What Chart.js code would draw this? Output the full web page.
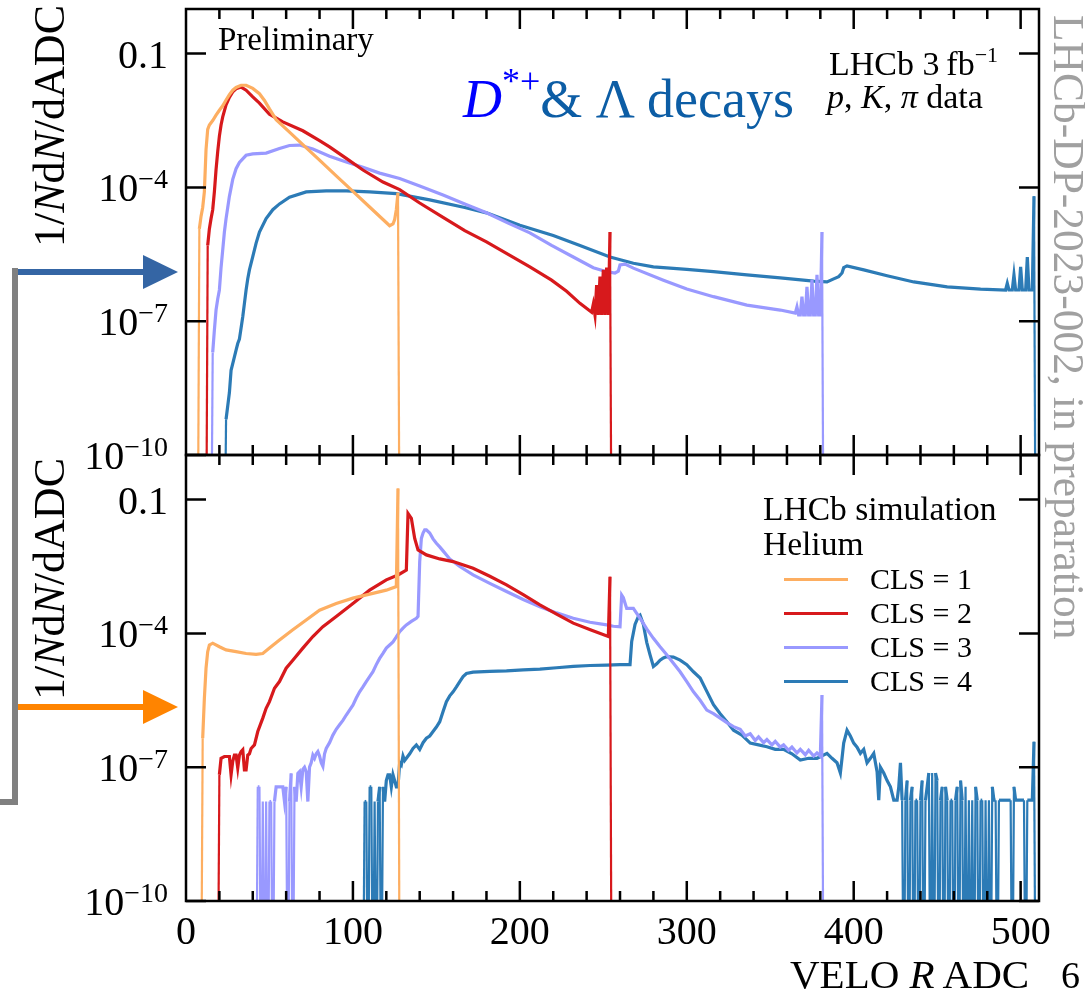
<!DOCTYPE html>
<html>
<head>
<meta charset="utf-8">
<script src="https://cdn.jsdelivr.net/npm/chart.js@4.4.1/dist/chart.umd.min.js"></script>
<style>
  body { margin: 0; background: #fff; }
  #fig { position: relative; width: 1085px; height: 996px; overflow: hidden;
         font-family: 'Liberation Serif', 'Times New Roman', serif; color: #000; }
  #fig canvas { position: absolute; left: 0; }
  .t { position: absolute; white-space: nowrap; line-height: 1; text-align: left; }
</style>
</head>
<body>
<div id="fig">
  <canvas id="top-chart" width="1085" height="480" style="top:0"></canvas>
  <canvas id="bottom-chart" width="1085" height="556" style="top:440px"></canvas>
  <svg width="190" height="820" style="position:absolute;left:0;top:0">
    <polyline points="15,268 15,802 0,802" fill="none" stroke="#808080" stroke-width="6"/>
    <line x1="18" y1="272" x2="146" y2="272" stroke="#3465a4" stroke-width="6"/>
    <polygon points="143,255 178,272 143,289" fill="#3465a4"/>
    <line x1="18" y1="707" x2="146" y2="707" stroke="#ff8400" stroke-width="6"/>
    <polygon points="143,690 178,707 143,724" fill="#ff8400"/>
  </svg>
</div>
<script>
// ---- data: [ADC, log10(1/N dN/dADC)], null = empty bin ----
const clsLabels = ['CLS = 1', 'CLS = 2', 'CLS = 3', 'CLS = 4'];
const clsColors = ['#fdae61', '#d7191c', '#9999ff', '#2c7bb6'];
const yTickValues = [1e-10, 1e-7, 1e-4, 0.1];

// top panel: D*+ & Lambda data
const dataCls1 = [[7,null],[8,-4.93],[9,-4.65],[10,-4.45],[11,-4.1],[12,-3.15],[13,-2.7],[14,-2.6],[16,-2.5],[18,-2.38],
  [20,-2.27],[22,-2.17],[24,-2.04],[26,-1.92],[28,-1.82],[30,-1.76],[33,-1.71],[36,-1.71],[40,-1.78],[44,-1.9],[47,-2.05],
  [50,-2.24],[54,-2.48],[62,-2.76],[70,-3.04],[80,-3.39],[90,-3.74],[100,-4.09],[110,-4.44],[118,-4.72],[122,-4.86],
  [124,-4.82],[125,-4.72],[126,-4.5],[127,-4.12],[128,null]];
const dataCls2 = [[12,null],[13,-5.3],[14,-4.93],[15,-4.7],[16,-4.5],[17,-4.1],[18,-3.6],[19,-3.2],[20,-2.85],[21,-2.6],
  [22,-2.42],[24,-2.15],[26,-1.98],[28,-1.86],[30,-1.79],[33,-1.75],[36,-1.82],[40,-1.97],[44,-2.11],[50,-2.36],[58,-2.53],
  [70,-2.73],[80,-2.95],[86,-3.09],[96,-3.35],[106,-3.61],[118,-3.88],[128,-4.05],[140,-4.35],[154,-4.67],[167,-4.97],
  [180,-5.22],[193,-5.5],[206,-5.78],[219,-6.08],[228,-6.33],[236,-6.6],[243,-6.8],[244,-6.62],[245,-6.86],[246,-6.19],
  [247,-6.86],[248,-6.0],[249,-6.86],[250,-5.85],[251,-6.86],[252,-5.8],[253,-6.86],[254,-5.0],[255,null]];
const dataCls3 = [[15,null],[16,-7.7],[17,-7.2],[18,-6.75],[19,-6.5],[20,-6.3],[21,-5.8],[22,-5.4],[23,-5.0],[24,-4.7],
  [25,-4.45],[26,-4.2],[28,-3.82],[30,-3.58],[32,-3.44],[36,-3.28],[40,-3.25],[48,-3.23],[56,-3.13],[62,-3.06],[68,-3.05],
  [76,-3.14],[86,-3.3],[96,-3.43],[106,-3.55],[116,-3.68],[128,-3.8],[140,-3.97],[154,-4.17],[167,-4.37],[180,-4.57],
  [193,-4.8],[206,-5.02],[219,-5.3],[232,-5.56],[244,-5.8],[252,-5.89],[257,-5.92],[259,-5.88],[260,-5.74],[263,-5.72],
  [268,-5.81],[286,-6.08],[300,-6.28],[316,-6.45],[336,-6.64],[356,-6.75],[365,-6.82],[366,-6.68],[367,-6.86],[368,-6.86],
  [369,-6.45],[370,-6.86],[371,-6.86],[372,-6.23],[373,-6.86],[374,-6.86],[375,-6.07],[376,-6.86],[377,-6.86],[378,-5.96],
  [379,-6.86],[380,-6.86],[381,-5.0],[382,null]];
const dataCls4 = [[23,null],[24,-9.2],[25,-8.9],[26,-8.6],[27,-8.1],[28,-7.95],[29,-7.8],[30,-7.65],[31,-7.5],[32,-7.4],
  [33,-7.15],[34,-6.9],[35,-6.6],[36,-6.3],[37,-6.05],[38,-5.85],[40,-5.55],[42,-5.25],[44,-5.0],[48,-4.7],[52,-4.5],
  [56,-4.37],[62,-4.22],[72,-4.1],[84,-4.08],[96,-4.08],[110,-4.1],[126,-4.14],[146,-4.28],[167,-4.45],[180,-4.57],
  [200,-4.85],[220,-5.08],[236,-5.3],[254,-5.56],[268,-5.7],[280,-5.78],[300,-5.84],[316,-5.89],[336,-5.96],[356,-6.03],
  [376,-6.1],[384,-6.12],[388,-6.05],[391,-6.0],[393,-5.92],[394,-5.8],[396,-5.76],[406,-5.85],[420,-5.98],[436,-6.12],
  [456,-6.23],[476,-6.28],[491,-6.3],[492,-6.15],[493,-6.3],[495,-6.3],[496,-5.96],[497,-6.3],[499,-6.3],[500,-5.78],
  [501,-6.3],[503,-6.3],[504,-5.56],[505,-6.3],[507,-6.3],[508,-4.2],[509,null]];

// bottom panel: helium simulation
const simCls1 = [[9,null],[10,-6.35],[11,-5.46],[12,-4.78],[13,-4.41],[14,-4.26],[16,-4.22],[20,-4.3],[24,-4.37],
  [30,-4.41],[36,-4.45],[42,-4.47],[46,-4.45],[50,-4.33],[56,-4.15],[64,-3.92],[72,-3.7],[80,-3.48],[90,-3.33],
  [100,-3.21],[110,-3.12],[120,-3.03],[126,-2.95],[127,-0.75],[128,null]];
const simCls2 = [[19,null],[20,-7.17],[21,-6.8],[23,-6.76],[25,-6.76],[26,-6.76],[27,-7.17],[28,-6.87],[29,-6.73],
  [30,-6.73],[31,-7.02],[32,-6.73],[33,-6.65],[34,-6.61],[35,-7.06],[36,-7.06],[37,-6.73],[38,-6.7],[39,-6.58],[41,-6.5],
  [43,-6.2],[46,-5.9],[48,-5.68],[50,-5.53],[53,-5.23],[56,-5.08],[60,-4.78],[64,-4.6],[70,-4.33],[76,-4.07],[82,-3.85],
  [90,-3.62],[100,-3.33],[110,-3.03],[120,-2.8],[127,-2.69],[132,-2.58],[133,-1.31],[135,-1.42],[137,-1.87],[139,-2.13],
  [144,-2.24],[152,-2.33],[160,-2.39],[172,-2.54],[182,-2.72],[192,-2.91],[202,-3.13],[212,-3.36],[222,-3.57],
  [232,-3.77],[243,-3.93],[253,-4.07],[254,-2.73],[255,null]];
const simCls3 = [[42,null],[43,-7.44],[44,-7.44],[45,null],[46,-7.77],[47,null],[48,-7.77],[49,null],[50,-7.77],[51,-7.77],
  [52,null],[53,-7.77],[54,-7.44],[55,-7.44],[56,-7.44],[57,-7.44],[58,-7.44],[59,-7.77],[60,-7.44],[61,null],[62,-7.77],
  [63,-7.14],[64,null],[65,-7.44],[66,-7.77],[67,-7.14],[68,-7.1],[69,-7.44],[70,-7.05],[71,-7.0],[72,-7.1],[73,-7.77],
  [74,-7.0],[75,-6.9],[76,-6.73],[77,-6.8],[78,-6.7],[79,-6.65],[80,-6.75],[81,-6.9],[82,-6.98],[83,-6.7],[84,-6.58],
  [86,-6.45],[88,-6.28],[90,-6.15],[92,-6.05],[94,-5.95],[96,-5.83],[98,-5.72],[100,-5.61],[102,-5.45],[104,-5.31],
  [106,-5.2],[108,-5.08],[110,-4.97],[112,-4.86],[114,-4.7],[116,-4.56],[118,-4.45],[120,-4.33],[122,-4.26],[124,-4.19],
  [126,-4.08],[128,-3.96],[130,-3.88],[132,-3.81],[135,-3.73],[138,-3.66],[139,-3.62],[140,-2.39],[141,-1.87],[142,-1.75],
  [143,-1.68],[144,-1.68],[146,-1.75],[148,-1.88],[150,-1.98],[152,-2.06],[154,-2.15],[158,-2.33],[164,-2.5],[172,-2.69],
  [182,-2.88],[192,-3.06],[202,-3.24],[212,-3.4],[222,-3.54],[232,-3.66],[242,-3.75],[252,-3.81],[256,-3.84],[260,-3.85],
  [261,-3.14],[262,-3.2],[264,-3.44],[268,-3.44],[270,-3.55],[272,-3.66],[276,-3.9],[280,-4.11],[284,-4.3],[288,-4.48],
  [292,-4.67],[296,-4.86],[300,-5.08],[304,-5.31],[308,-5.5],[312,-5.72],[316,-5.8],[320,-5.9],[324,-6.0],[328,-6.09],
  [332,-6.15],[335,-6.3],[338,-6.25],[341,-6.4],[343,-6.32],[346,-6.45],[348,-6.38],[351,-6.5],[353,-6.42],[356,-6.55],
  [358,-6.5],[361,-6.62],[363,-6.55],[366,-6.68],[368,-6.6],[371,-6.72],[373,-6.62],[376,-6.75],[378,-6.68],[380,-6.75],
  [381,-5.38],[382,null]];
const simCls4 = [[106,null],[107,-7.77],[108,-7.77],[109,null],[110,-7.44],[111,-7.44],[112,null],[113,-7.77],[114,null],
  [115,-7.77],[116,-7.44],[117,null],[118,-7.44],[119,-7.77],[120,-7.3],[121,-7.17],[122,-7.17],[123,-7.44],[124,-7.17],
  [125,-7.3],[126,-7.44],[127,-7.44],[128,-6.9],[129,-6.95],[130,-6.75],[131,-6.85],[132,-6.8],[134,-6.7],[136,-6.58],
  [138,-6.5],[140,-6.6],[142,-6.45],[144,-6.35],[146,-6.3],[148,-6.2],[150,-6.1],[152,-5.98],[154,-5.75],[156,-5.53],
  [158,-5.4],[160,-5.31],[162,-5.2],[164,-5.08],[166,-4.97],[168,-4.9],[172,-4.87],[182,-4.85],[192,-4.84],[202,-4.82],
  [212,-4.8],[222,-4.77],[232,-4.74],[242,-4.72],[252,-4.71],[260,-4.7],[266,-4.7],[267,-4.18],[269,-3.8],[271,-3.62],
  [272,-3.59],[274,-3.8],[276,-4.2],[278,-4.48],[280,-4.74],[282,-4.68],[284,-4.6],[286,-4.55],[288,-4.52],[292,-4.53],
  [296,-4.6],[300,-4.7],[304,-4.86],[308,-5.0],[312,-5.3],[316,-5.6],[320,-5.8],[324,-5.98],[328,-6.17],[333,-6.28],
  [338,-6.46],[343,-6.5],[348,-6.54],[353,-6.6],[358,-6.6],[363,-6.7],[368,-6.84],[373,-6.8],[378,-6.8],[384,-6.69],
  [387,-6.8],[390,-6.9],[392,-7.13],[393,-6.8],[394,-6.46],[396,-6.17],[398,-6.3],[400,-6.46],[402,-6.55],[404,-6.69],
  [406,-6.6],[408,-6.9],[410,-6.8],[412,-6.69],[414,-7.1],[415,-7.74],[416,-7.0],[418,-7.13],[420,-7.3],[422,-7.44],
  [424,-7.74],[425,-7.74],[426,-7.74],[427,-7.44],[428,-6.9],[429,-7.74],[430,null],[431,-7.74],[432,-7.3],[433,null],
  [434,-7.74],[435,-7.44],[436,null],[437,-7.74],[438,-7.74],[439,null],[440,-7.74],[441,-7.3],[442,null],[443,-7.74],
  [444,-7.44],[445,-7.13],[446,null],[447,-7.13],[448,null],[449,-7.13],[450,-7.3],[451,null],[452,-7.74],[453,-7.44],
  [454,null],[455,-7.44],[456,-7.74],[457,null],[458,-7.74],[459,-7.74],[460,null],[461,-7.74],[462,-7.44],[463,null],
  [464,-7.3],[465,-7.74],[466,null],[467,-7.44],[468,null],[469,-7.74],[470,null],[471,-7.74],[472,null],[473,-7.44],
  [474,-7.74],[475,null],[476,-7.74],[477,-7.74],[478,null],[479,-7.74],[480,null],[481,-7.74],[482,null],[483,-7.44],
  [484,-7.74],[485,-7.74],[486,null],[487,-7.74],[488,-7.74],[489,-7.74],[490,-7.74],[491,-7.74],[492,-7.74],[493,-7.74],
  [494,-7.74],[495,null],[496,-7.44],[497,-7.74],[498,-7.74],[499,-7.74],[500,-7.74],[501,-7.74],[502,-7.74],[503,null],
  [504,-7.74],[505,-7.74],[506,-7.74],[507,-7.74],[508,-6.43],[509,null]];

// ---- helpers ----
const FONT = "'Liberation Serif', 'Times New Roman', serif";
const EMPTY = 1e-13; // empty bin -> drawn off the bottom of the log axis
function toPoints(pairs) {
  return pairs.map(([adc, lg]) => ({ x: adc, y: lg === null ? EMPTY : Math.pow(10, lg) }));
}
function makeDatasets(series) {
  return series.map((pairs, i) => ({
    label: clsLabels[i],
    data: toPoints(pairs),
    borderColor: clsColors[i],
    borderWidth: 3.2,
    // drops into empty bins look thinner in the original step histograms
    segment: { borderWidth: c => (c.p0.parsed.y <= EMPTY || c.p1.parsed.y <= EMPTY) ? 2.2 : 3.2 },
    pointRadius: 0,
    tension: 0,
    fill: false
  }));
}

// frame with inward ticks on all sides, y labels with superscripts
const frame = {
  id: 'frame',
  afterDatasetsDraw(chart) {
    const { ctx, chartArea: a, scales: { x, y } } = chart;
    ctx.save();
    ctx.strokeStyle = '#000';
    ctx.lineWidth = 2.5;
    ctx.strokeRect(a.left, a.top, a.right - a.left, a.bottom - a.top);
    ctx.beginPath();
    for (let v = 20; v < 511; v += 20) {
      const px = x.getPixelForValue(v);
      const len = v % 100 === 0 ? 20 : 10;
      ctx.moveTo(px, a.bottom); ctx.lineTo(px, a.bottom - len);
      ctx.moveTo(px, a.top); ctx.lineTo(px, a.top + len);
    }
    yTickValues.forEach(v => {
      const py = y.getPixelForValue(v);
      ctx.moveTo(a.left, py); ctx.lineTo(a.left + 20, py);
      ctx.moveTo(a.right, py); ctx.lineTo(a.right - 20, py);
    });
    ctx.stroke();

    ctx.fillStyle = '#000';
    ctx.textAlign = 'right';
    ctx.textBaseline = 'alphabetic';
    const xr = a.left - 18;
    yTickValues.forEach(v => {
      const py = y.getPixelForValue(v);
      if (v === 0.1) {
        ctx.font = '40px ' + FONT;
        ctx.fillText('0.1', xr, py + 14);
        return;
      }
      const sup = '\u2212' + Math.abs(Math.round(Math.log10(v)));
      ctx.font = '28px ' + FONT;
      ctx.fillText(sup, xr, py + 1);
      const w = ctx.measureText(sup).width;
      ctx.font = '40px ' + FONT;
      ctx.fillText('10', xr - w, py + 14);
    });
    ctx.restore();
  }
};

function makeOptions(padding, showX) {
  const x = {
    type: 'linear', min: 0, max: 511, display: showX,
    grid: { display: false, drawTicks: false },
    border: { display: false },
    ticks: {
      stepSize: 100, includeBounds: false, autoSkip: false, maxRotation: 0,
      color: '#000', padding: 8, font: { family: FONT, size: 40 }
    }
  };
  if (showX) x.afterFit = s => { s.height = 95; };
  return {
    responsive: false,
    animation: false,
    events: [],
    layout: { padding },
    plugins: { legend: { display: false }, tooltip: { enabled: false } },
    scales: {
      x,
      y: { type: 'logarithmic', min: 1e-10, max: 1, display: false }
    }
  };
}

new Chart(document.getElementById('top-chart'), {
  type: 'line',
  data: { datasets: makeDatasets([dataCls1, dataCls2, dataCls3, dataCls4]) },
  options: makeOptions({ left: 186, right: 46, top: 9, bottom: 25 }, false),
  plugins: [frame]
});

new Chart(document.getElementById('bottom-chart'), {
  type: 'line',
  data: { datasets: makeDatasets([simCls1, simCls2, simCls3, simCls4]) },
  options: makeOptions({ left: 186, right: 46, top: 15, bottom: 0 }, true),
  plugins: [frame]
});

// ---- text ----
const fig = document.getElementById('fig');
const BASE = 0.8375; // baseline offset of Liberation Serif at line-height 1
function addText(html, x, baseline, size, extra) {
  const d = document.createElement('div');
  d.className = 't';
  d.style.left = x + 'px';
  d.style.top = (baseline - BASE * size) + 'px';
  d.style.fontSize = size + 'px';
  if (extra) Object.assign(d.style, extra);
  d.innerHTML = html;
  fig.appendChild(d);
  return d;
}

addText('Preliminary', 218, 51, 33);
addText('<span style="color:#0000ff;font-style:italic">D</span>' +
  '<span style="color:#0000ff;font-size:36px;position:relative;top:-24px">*+</span>' +
  '<span style="color:#0c5da5">&amp; \u039B decays</span>', 463, 117, 54);
addText('LHCb 3&thinsp;fb<span style="font-size:22px;position:relative;top:-13px">\u22121</span>', 829, 75, 34);
addText('<i>p</i>, <i>K</i>, <i>\u03C0</i> data', 827, 108, 34);

addText('LHCb simulation', 763, 520, 33.5);
addText('Helium', 763, 555, 33.5);
const legendRows = [579, 613, 647, 681];
clsLabels.forEach((lab, i) => {
  const line = document.createElement('div');
  Object.assign(line.style, { position: 'absolute', left: '784px', width: '64px', height: '3px',
    top: (legendRows[i] - 1.5) + 'px', background: clsColors[i] });
  fig.appendChild(line);
  addText(lab, 870, legendRows[i] + 10, 30);
});

addText('VELO <i>R</i> ADC', 790, 988, 41);
addText('6', 1061, 988, 38);

// rotated y titles (text end aligned near the top of each panel)
[[405, 44], [858, 44]].forEach(([top, size]) => {
  addText('1/<i>N</i>d<i>N</i>/dADC', 0, 0, size, {
    left: (65 - BASE * size) + 'px', top: top + 'px', width: '400px', textAlign: 'right',
    transform: 'rotate(-90deg)', transformOrigin: '0 0'
  });
});

// right-hand document reference
addText('LHCb-DP-2023-002, in preparation', 0, 0, 43.5, {
  left: (1054 + BASE * 43.5) + 'px', top: '15px', color: '#a0a0a0',
  transform: 'rotate(90deg)', transformOrigin: '0 0'
});
</script>
</body>
</html>
